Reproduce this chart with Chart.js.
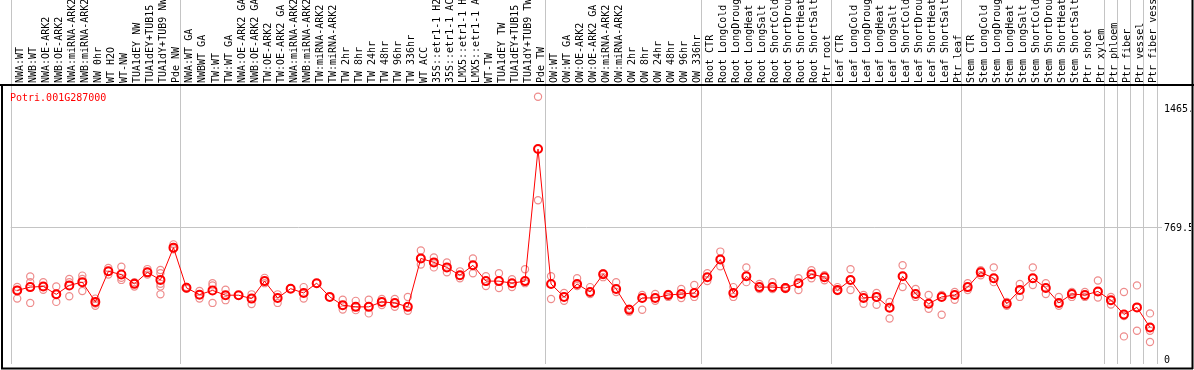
<!DOCTYPE html>
<html><head><meta charset="utf-8">
<script src="https://cdn.jsdelivr.net/npm/chart.js@4.4.0/dist/chart.umd.min.js"></script>
<style>html,body{margin:0;padding:0;background:#fff;overflow:hidden}canvas{display:block}</style>
</head><body>
<canvas id="c" width="1194" height="370"></canvas>
<script>
const title = "Potri.001G287000";
const categories = [
 "NWA:WT","NWB:WT","NWA:OE-ARK2","NWB:OE-ARK2","NWA:miRNA-ARK2","NWB:miRNA-ARK2","NW 0hr","WT H2O","WT-NW","TUA1dEY NW",
 "TUA1dEY+TUB15","TUA1dY+TUB9 NW","Pde NW","NWA:WT GA","NWBWT GA","TW:WT","TW:WT GA","NWA:OE-ARK2 GA","NWB:OE-ARK2 GA","TW:OE-ARK2",
 "TW:OE-ARK2 GA","NWA:miRNA-ARK2 GA","NWB:miRNA-ARK2 GA","TW:miRNA-ARK2","TW:miRNA-ARK2","TW 2hr","TW 8hr","TW 24hr","TW 48hr","TW 96hr",
 "TW 336hr","WT ACC","35S::etr1-1 H2O","35S::etr1-1 ACC","LMX5::etr1-1 H2O","LMX5::etr1-1 ACC","WT-TW","TUA1dEY TW","TUA1dEY+TUB15","TUA1dY+TUB9 TW",
 "Pde TW","OW:WT","OW:WT GA","OW:OE-ARK2","OW:OE-ARK2 GA","OW:miRNA-ARK2","OW:miRNA-ARK2","OW 2hr","OW 8hr","OW 24hr",
 "OW 48hr","OW 96hr","OW 336hr","Root CTR","Root LongCold","Root LongDrought","Root LongHeat","Root LongSalt","Root ShortCold","Root ShortDrought",
 "Root ShortHeat","Root ShortSalt","Ptr root","Leaf CTR","Leaf LongCold","Leaf LongDrought","Leaf LongHeat","Leaf LongSalt","Leaf ShortCold","Leaf ShortDrought",
 "Leaf ShortHeat","Leaf ShortSalt","Ptr leaf","Stem CTR","Stem LongCold","Stem LongDrought","Stem LongHeat","Stem LongSalt","Stem ShortCold","Stem ShortDrought",
 "Stem ShortHeat","Stem ShortSalt","Ptr shoot","Ptr xylem","Ptr phloem","Ptr fiber","Ptr vessel","Ptr fiber vessel"
];
const means = [
 400,419,423,377,429,448,333,511,492,438,
 505,461,649,415,375,400,372,372,352,454,
 356,410,385,442,362,314,304,304,333,327,
 304,586,563,534,488,546,454,454,442,454,
 1223,437,362,437,391,494,408,287,356,356,
 373,379,385,477,580,385,482,419,419,414,
 442,494,477,402,460,356,362,299,482,379,
 322,362,373,419,505,471,322,402,471,414,
 327,379,373,394,343,260,301,184
];
const replicates = [
 [420,402,352],[481,448,327],[448,423,404],[423,377,333],[467,448,366],[486,467,396],[352,323,310],[530,511,492],[538,473,461],[448,438,423],
 [524,505,492],[519,500,438,423,377],[668,649,639],[420,410],[396,375,352],[442,429,327],[404,372,343],[372],[377,352,320],[473,454,442],
 [377,356,327],[410],[419,385,352],[442],[362],[346,314,289],[339,304,285],[346,304,266],[350,333,315],[350,327,304],
 [362,304,281],[632,586,551],[592,563,534],[563,534,505],[511,488,471],[586,546,500],[482,454,425],[500,454,414],[465,442,419],[523,454,442],
 [1528,1223,925],[482,437,350],[385,362,339],[471,437,425],[419,391,379],[500,494,477],[448,408,391],[293,287,276],[373,356,287],[379,356,339],
 [379,373,362],[408,379,356],[431,385,362],[500,477,454],[626,580,540],[419,385,362],[534,482,448],[437,419,408],[448,419,408],[419,414,408],
 [471,442,402],[517,494,471],[488,477,459],[419,402,396],[523,460,402],[373,356,322],[385,362,316],[333,299,236],[546,482,419],[408,379,362],
 [373,322,293],[373,362,258],[391,373,345],[442,419,402],[517,505,488],[534,471,448],[333,322,310],[437,402,362],[534,471,431],[442,414,379],
 [362,327,310],[391,379,362],[391,373,362],[458,394,358],[362,343,318],[391,251,132],[429,301,165],[266,184,165,99]
];
const groupBreaks = [-0.5, 12.5, 40.5, 52.5, 62.5, 72.5, 83.5, 84.5, 85.5, 86.5, 87.5];
const yTicks = [0, 769.5, 1465];
const yTickLabels = ["0", "769.5", "1465."];
const yGrid = [769.5];

const meanPts = means.map((v, i) => ({x: i, y: v}));
const repPts = [];
replicates.forEach((arr, i) => arr.forEach(v => repPts.push({x: i, y: v})));

const FONT = '10px "DejaVu Sans Mono", "Liberation Mono", monospace';

const deco = {
  id: 'deco',
  beforeDatasetsDraw(chart) {
    const c = chart.ctx, xs = chart.scales.x, ys = chart.scales.y, a = chart.chartArea;
    c.save();
    c.strokeStyle = '#c4c4c4';
    c.lineWidth = 1;
    groupBreaks.forEach(b => {
      const px = Math.round(xs.getPixelForValue(b)) + 0.5;
      c.beginPath(); c.moveTo(px, 0); c.lineTo(px, a.bottom); c.stroke();
    });
    yGrid.forEach(g => {
      const py = Math.round(ys.getPixelForValue(g)) + 0.5;
      c.beginPath(); c.moveTo(a.left, py); c.lineTo(1162, py); c.stroke();
    });
    c.restore();
  },
  afterDraw(chart) {
    const c = chart.ctx, xs = chart.scales.x, ys = chart.scales.y, a = chart.chartArea;
    c.save();
    // frame
    c.strokeStyle = '#000';
    c.lineWidth = 2;
    c.beginPath(); c.moveTo(0, 85); c.lineTo(1194, 85); c.stroke();
    c.beginPath(); c.moveTo(2, 85); c.lineTo(2, 369); c.stroke();
    c.beginPath(); c.moveTo(1, 368.5); c.lineTo(1193, 368.5); c.stroke();
    c.beginPath(); c.moveTo(1192.5, 0); c.lineTo(1192.5, 369); c.stroke();
    // category labels
    c.font = FONT;
    c.fillStyle = '#000';
    c.textAlign = 'left';
    c.textBaseline = 'alphabetic';
    categories.forEach((lab, i) => {
      const px = xs.getPixelForValue(i);
      c.save();
      c.translate(px + 6, 83);
      c.rotate(-Math.PI / 2);
      c.fillText(lab, 0, 0);
      c.restore();
    });
    // title
    c.fillStyle = '#ff0000';
    c.fillText(title, 10, 100.5);
    // y tick labels (right)
    c.fillStyle = '#000';
    c.textBaseline = 'middle';
    c.save();
    c.beginPath(); c.rect(0, 86, 1191, 282); c.clip();
    yTicks.forEach((t, k) => {
      c.fillText(yTickLabels[k], 1164, ys.getPixelForValue(t) + 1.5);
    });
    c.restore();
    c.restore();
  }
};

new Chart(document.getElementById('c'), {
  type: 'scatter',
  data: {
    datasets: [
      {
        data: meanPts, showLine: true, borderColor: '#ff0000', borderWidth: 1,
        pointRadius: 4, pointBorderWidth: 2, pointBorderColor: '#ff0000',
        pointBackgroundColor: 'rgba(255,255,255,0)'
      },
      {
        data: repPts, showLine: false,
        pointRadius: 3.6, pointBorderWidth: 1.2, pointBorderColor: 'rgb(238,140,140)',
        pointBackgroundColor: 'rgba(255,255,255,0)'
      }
    ]
  },
  options: {
    responsive: false, animation: false, events: [],
    layout: {padding: {left: 10.7, right: 37.5, top: 85, bottom: 2}},
    scales: {
      x: {type: 'linear', min: -0.5, max: 87.5, display: false},
      y: {type: 'linear', min: -28.8, max: 1596.3, display: false}
    },
    plugins: {legend: {display: false}, tooltip: {enabled: false}}
  },
  plugins: [deco]
});
</script>
</body></html>
